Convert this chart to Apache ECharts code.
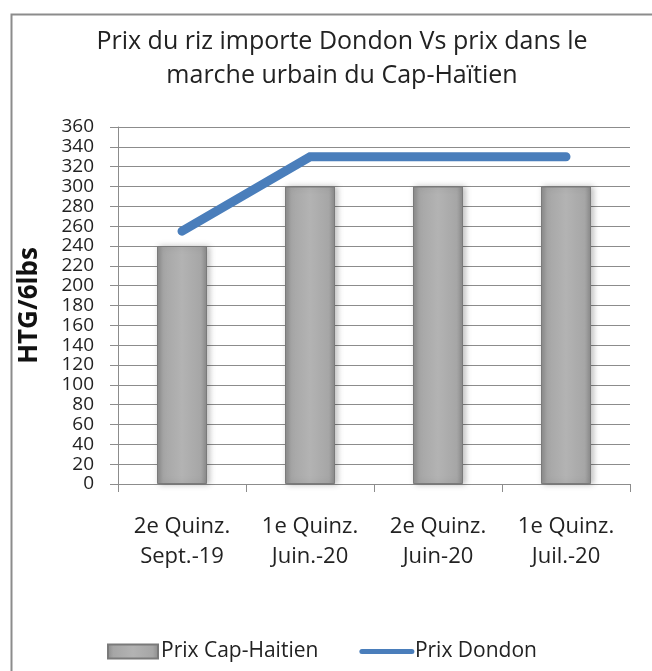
<!DOCTYPE html>
<html><head><meta charset="utf-8">
<script src="https://cdn.jsdelivr.net/npm/echarts@6/dist/echarts.min.js"></script>
<style>html,body{margin:0;padding:0;background:#fff}#c{width:652px;height:671px}</style>
</head><body><div id="c"></div>
<script>
const categories = ['2e Quinz.\nSept.-19', '1e Quinz.\nJuin.-20', '2e Quinz.\nJuin-20', '1e Quinz.\nJuil.-20'];
const prixCapHaitien = [240, 300, 300, 300];
const prixDondon = [255, 330, 330, 330];
const yTicks = {min: 0, max: 360, interval: 20};
const FONT = '"Open Sans", "Noto Sans", sans-serif';

const chart = echarts.init(document.getElementById('c'), null, {renderer: 'canvas'});
const barGrad = new echarts.graphic.LinearGradient(0, 0, 1, 0, [
  {offset: 0, color: '#8a8a8a'},
  {offset: 0.12, color: '#a6a6a6'},
  {offset: 0.5, color: '#b3b3b3'},
  {offset: 0.88, color: '#a6a6a6'},
  {offset: 1, color: '#8a8a8a'}
]);
chart.setOption({
  animation: false,
  backgroundColor: '#fff',
  graphic: [{
    type: 'rect', left: 9, top: 12, shape: {width: 700, height: 700},
    style: {fill: 'none', stroke: '#8c8c8c', lineWidth: 2}, silent: true, z: -1
  }],
  title: {
    text: 'Prix du riz importe Dondon Vs prix dans le\nmarche urbain du Cap-Haïtien',
    left: 337, top: 20, textAlign: 'center',
    textStyle: {fontFamily: FONT, fontSize: 25, fontWeight: 'normal', color: '#222', lineHeight: 34}
  },
  legend: {
    top: 636, left: 102, itemGap: 41, itemWidth: 50, itemHeight: 14,
    textStyle: {fontFamily: FONT, fontSize: 21, color: '#222', padding: [0, 0, 0, -2]},
    data: [
      {name: 'Prix Cap-Haitien', icon: 'rect'},
      {name: 'Prix Dondon', lineStyle: {width: 5, color: '#4a7ebb', cap: 'round'}, itemStyle: {color: '#4a7ebb', opacity: 0}}
    ]
  },
  grid: {left: 118, right: 22, top: 127, bottom: 187, containLabel: false},
  xAxis: {
    type: 'category', data: categories, boundaryGap: true,
    axisLine: {lineStyle: {color: '#8c8c8c', width: 1}},
    axisTick: {show: true, length: 8, lineStyle: {color: '#8c8c8c'}},
    axisLabel: {fontFamily: FONT, fontSize: 22, color: '#222', lineHeight: 30, margin: 28}
  },
  yAxis: {
    type: 'value', min: yTicks.min, max: yTicks.max, interval: yTicks.interval,
    name: 'HTG/6lbs', nameLocation: 'middle', nameGap: 75,
    nameTextStyle: {fontFamily: FONT, fontSize: 26, fontWeight: 'bold', color: '#111'},
    axisLine: {show: true, lineStyle: {color: '#8c8c8c', width: 1}},
    axisTick: {show: true, length: 8, lineStyle: {color: '#8c8c8c'}},
    axisLabel: {fontFamily: FONT, fontSize: 19, color: '#222', margin: 24, lineHeight: 18,
      showMinLabel: true, showMaxLabel: true},
    splitLine: {show: true, lineStyle: {color: '#8c8c8c', width: 1}}
  },
  series: [
    {
      name: 'Prix Cap-Haitien', type: 'bar', data: prixCapHaitien, barWidth: 50,
      itemStyle: {color: barGrad, borderColor: '#7a7a7a', borderWidth: 1,
        shadowColor: 'rgba(0,0,0,0.25)', shadowBlur: 6, shadowOffsetX: 2, shadowOffsetY: 0}
    },
    {
      name: 'Prix Dondon', type: 'line', data: prixDondon, symbol: 'none',
      lineStyle: {color: '#4a7ebb', width: 9, cap: 'round', join: 'miter'},
      itemStyle: {color: '#4a7ebb'}
    }
  ]
});
</script></body></html>
